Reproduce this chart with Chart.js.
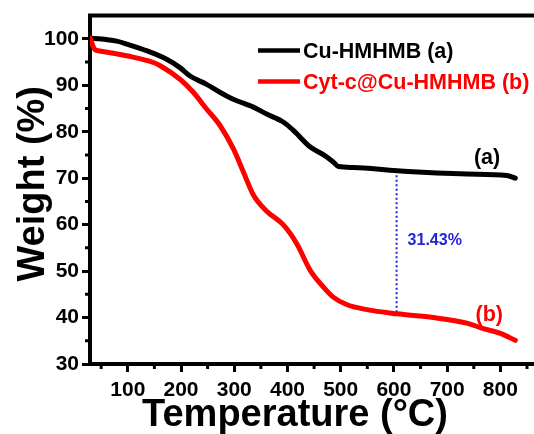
<!DOCTYPE html>
<html>
<head>
<meta charset="utf-8">
<script src="https://cdn.jsdelivr.net/npm/chart.js@4.4.1/dist/chart.umd.min.js"></script>
<style>
  html, body { margin: 0; padding: 0; background: #fff; overflow: hidden; }
  #wrap { width: 534px; height: 434px; overflow: hidden; }
  canvas { display: block; }
</style>
</head>
<body>
<div id="wrap"><canvas id="tga" width="570" height="434"></canvas></div>
<script>
// TGA curves
const tempA   = [29, 79, 100, 129, 173, 198, 217, 248, 273, 298, 336, 361, 392, 411, 443, 468, 486, 496, 524, 606, 737, 812, 828];
const weightA = [100.2, 99.5, 98.8, 97.7, 95.6, 93.8, 92.0, 90.2, 88.5, 87.0, 85.3, 83.8, 82.1, 80.3, 76.7, 75.0, 73.5, 72.5, 72.3, 71.6, 70.9, 70.6, 70.0];

const tempB   = [29, 38, 47, 100, 148, 161, 198, 223, 248, 273, 298, 317, 336, 361, 392, 418, 443, 468, 486, 511, 549, 606, 674, 737, 768, 800, 828];
const weightB = [100.2, 97.7, 97.4, 96.3, 94.9, 94.2, 91.3, 88.5, 84.9, 81.4, 76.4, 71.4, 66.4, 62.9, 60.0, 55.8, 50.1, 46.5, 44.4, 42.8, 41.7, 40.8, 40.0, 38.8, 37.6, 36.6, 35.1];

// dotted marker showing the weight difference at ~605 C
const gapTemp   = [605, 605];
const gapWeight = [71.6, 40.8];
const gapLabel  = '31.43%';

const seriesNames  = ['Cu-HMHMB (a)', 'Cyt-c@Cu-HMHMB (b)'];
const seriesColors = ['#000000', '#ff0000'];

const xMajor = [100, 200, 300, 400, 500, 600, 700, 800];
const xMinor = [50, 150, 250, 350, 450, 550, 650, 750, 850];
const yMajor = [30, 40, 50, 60, 70, 80, 90, 100];
const yMinor = [35, 45, 55, 65, 75, 85, 95];

const FONT = "'Liberation Sans', Arial, sans-serif";

function pts(xs, ys) {
  return xs.map((x, i) => ({ x: x, y: ys[i] }));
}

// frame top line, minor ticks, axis titles, legend and annotations
const decor = {
  id: 'decor',
  afterDraw(chart) {
    const ctx = chart.ctx;
    const a = chart.chartArea;
    const xs = chart.scales.x, ys = chart.scales.y;
    ctx.save();

    // top frame
    ctx.strokeStyle = '#000';
    ctx.lineWidth = 4;
    ctx.beginPath();
    ctx.moveTo(a.left - 2, a.top);
    ctx.lineTo(a.right, a.top);
    ctx.stroke();

    // minor ticks
    ctx.lineWidth = 3;
    ctx.beginPath();
    xMinor.forEach(v => {
      const px = xs.getPixelForValue(v);
      ctx.moveTo(px, a.bottom);
      ctx.lineTo(px, a.bottom + 5);
    });
    yMinor.forEach(v => {
      const py = ys.getPixelForValue(v);
      ctx.moveTo(a.left, py);
      ctx.lineTo(a.left - 5, py);
    });
    ctx.stroke();

    // axis titles
    ctx.fillStyle = '#000';
    ctx.font = 'bold 38px ' + FONT;
    ctx.textAlign = 'center';
    ctx.textBaseline = 'alphabetic';
    ctx.fillText('Temperature (\u00B0C)', a.left + 205, 426);
    ctx.save();
    ctx.translate(44, (a.top + a.bottom) / 2 - 6);
    ctx.rotate(-Math.PI / 2);
    ctx.fillText('Weight (%)', 0, 0);
    ctx.restore();

    // legend
    ctx.font = 'bold 21.5px ' + FONT;
    ctx.textAlign = 'left';
    ctx.textBaseline = 'middle';
    seriesNames.forEach((name, i) => {
      const y = a.top + 35 + i * 31;
      ctx.strokeStyle = seriesColors[i];
      ctx.lineWidth = 4.5;
      ctx.beginPath();
      ctx.moveTo(a.left + 168, y);
      ctx.lineTo(a.left + 210, y);
      ctx.stroke();
      ctx.fillStyle = seriesColors[i];
      ctx.fillText(name, a.left + 213, y + 1);
    });

    // curve tags
    ctx.textAlign = 'center';
    ctx.fillStyle = seriesColors[0];
    ctx.fillText('(a)', xs.getPixelForValue(775), ys.getPixelForValue(74.4));
    ctx.fillStyle = seriesColors[1];
    ctx.fillText('(b)', xs.getPixelForValue(779), ys.getPixelForValue(40.5));

    // difference label
    ctx.font = 'bold 16px ' + FONT;
    ctx.textAlign = 'left';
    ctx.fillStyle = '#2323d8';
    ctx.fillText(gapLabel, xs.getPixelForValue(gapTemp[0]) + 11, ys.getPixelForValue(56.6));

    ctx.restore();
  }
};

new Chart(document.getElementById('tga'), {
  type: 'line',
  data: {
    datasets: [
      {
        label: seriesNames[1],
        data: pts(tempB, weightB),
        borderColor: seriesColors[1],
        borderWidth: 5,
        pointRadius: 0,
        cubicInterpolationMode: 'monotone',
        borderCapStyle: 'round',
        fill: false
      },
      {
        label: seriesNames[0],
        data: pts(tempA, weightA),
        borderColor: seriesColors[0],
        borderWidth: 5,
        pointRadius: 0,
        cubicInterpolationMode: 'monotone',
        borderCapStyle: 'round',
        fill: false
      },
      {
        label: 'gap',
        data: pts(gapTemp, gapWeight),
        borderColor: '#2323d8',
        borderWidth: 2,
        borderDash: [2, 2.5],
        pointRadius: 0,
        fill: false
      }
    ]
  },
  options: {
    responsive: false,
    animation: false,
    layout: { padding: { top: 13, right: 10, left: 0, bottom: 0 } },
    plugins: {
      legend: { display: false },
      tooltip: { enabled: false }
    },
    scales: {
      x: {
        type: 'linear',
        min: 29,
        max: 912,
        afterBuildTicks: s => { s.ticks = xMajor.map(v => ({ value: v })); },
        afterFit: s => { s.height = 70; },
        grid: { drawOnChartArea: false, tickLength: 8, tickWidth: 3, tickColor: '#000' },
        border: { color: '#000', width: 4 },
        ticks: {
          color: '#000',
          padding: 6,
          maxRotation: 0,
          font: { family: FONT, size: 21, weight: 'bold' }
        }
      },
      y: {
        min: 30,
        max: 105,
        afterBuildTicks: s => { s.ticks = yMajor.map(v => ({ value: v })); },
        afterFit: s => { s.width = 90; },
        grid: { drawOnChartArea: false, tickLength: 8, tickWidth: 3, tickColor: '#000' },
        border: { color: '#000', width: 4 },
        ticks: {
          color: '#000',
          padding: 3,
          font: { family: FONT, size: 21, weight: 'bold' }
        }
      }
    }
  },
  plugins: [decor]
});
</script>
</body>
</html>
